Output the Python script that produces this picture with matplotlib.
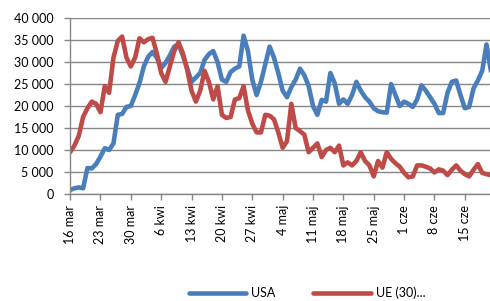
import numpy as np
import matplotlib
matplotlib.use("Agg")
import matplotlib.pyplot as plt
from matplotlib.ticker import FuncFormatter

# dzienne wartości od 16 mar
usa = [900, 1300, 1500, 1300, 5900, 5800, 6800, 8500, 10400, 10000,
       11500, 18000, 18200, 19800, 20000, 22500, 25200, 29000, 31200, 32300,
       31000, 28600, 29800, 31500, 33500, 34000, 31500, 28600, 25500, 26500,
       27500, 30500, 31800, 32500, 30000, 26000, 25500, 27700, 28500, 29000,
       36000, 32500, 26000, 22500, 25500, 29500, 33500, 31000, 27500, 23500,
       22000, 24300, 26000, 28500, 27000, 24500, 20000, 18000, 21400, 21000,
       27500, 25200, 20500, 21500, 20500, 22500, 25500, 23500, 22000, 21000,
       19500, 18800, 18600, 18500, 25000, 22500, 20000, 21000, 20500, 19800,
       21500, 24700, 23500, 22000, 20500, 18400, 18400, 23000, 25500, 25800,
       22500, 19500, 19800, 24000, 25800, 28000, 34000, 28000]
ue = [9500, 11000, 13200, 17500, 19500, 21000, 20500, 18600, 24500, 23000,
      31000, 34800, 35800, 31000, 29000, 31000, 35400, 34500, 35200, 35500,
      32000, 27500, 25500, 29000, 32500, 34500, 32000, 28200, 23500, 21000,
      23500, 28000, 25500, 21500, 24500, 18000, 17300, 17500, 21500, 21800,
      24500, 19000, 16000, 14000, 14000, 18000, 17800, 17000, 14000, 10500,
      12000, 20500, 15000, 14300, 13500, 9500, 10500, 11500, 8400, 10000,
      10500, 9500, 11000, 6500, 7200, 6500, 7500, 9500, 7500, 6500,
      4000, 7500, 6000, 9500, 8000, 7000, 6200, 4800, 3800, 4000,
      6500, 6500, 6200, 5800, 4900, 5600, 5300, 4300, 5500, 6500,
      5300, 4500, 4000, 5500, 6800, 4800, 4500, 4300]
labels = ["16 mar", "23 mar", "30 mar", "6 kwi", "13 kwi", "20 kwi", "27 kwi",
          "4 maj", "11 maj", "18 maj", "25 maj", "1 cze", "8 cze", "15 cze"]

plt.rcParams['font.family'] = ['Lato', 'DejaVu Sans']
grey = '#868686'

fig = plt.figure(figsize=(4.9, 3.01), dpi=100)
ax = fig.add_axes([0.143, 0.3555, 0.857, 0.5845])
days = np.arange(len(usa))
ax.plot(days, usa, color='#4A7EBB', lw=3.3, solid_capstyle='round', label='USA')
ax.plot(days, ue, color='#BE4B48', lw=3.3, solid_capstyle='round', label='UE (30)...')

ax.set_xlim(0, 96.8)
ax.set_ylim(0, 40000)
ax.set_yticks(np.arange(0, 40001, 5000))
ax.yaxis.set_major_formatter(FuncFormatter(lambda v, p: f"{int(v):,}".replace(",", " ")))
ax.set_xticks(np.arange(0, 7 * len(labels), 7))
ax.set_xticklabels(labels, rotation=90)
ax.grid(axis='y', color=grey, lw=1)
ax.set_axisbelow(True)
for s in ['top', 'right']:
    ax.spines[s].set_visible(False)
for s in ['left', 'bottom']:
    ax.spines[s].set_color(grey)
    ax.spines[s].set_linewidth(1)
ax.tick_params(axis='both', colors=grey, labelcolor='black', labelsize=9, length=4, width=1)
ax.tick_params(axis='y', pad=8)
ax.tick_params(axis='x', pad=4)

fig.legend(loc='lower center', bbox_to_anchor=(0.627, -0.024), ncol=2, frameon=False,
           fontsize=9, handlelength=4.6, columnspacing=3.0, handletextpad=0.4,
           borderpad=0.2)
fig.savefig('out.png', dpi=100)
